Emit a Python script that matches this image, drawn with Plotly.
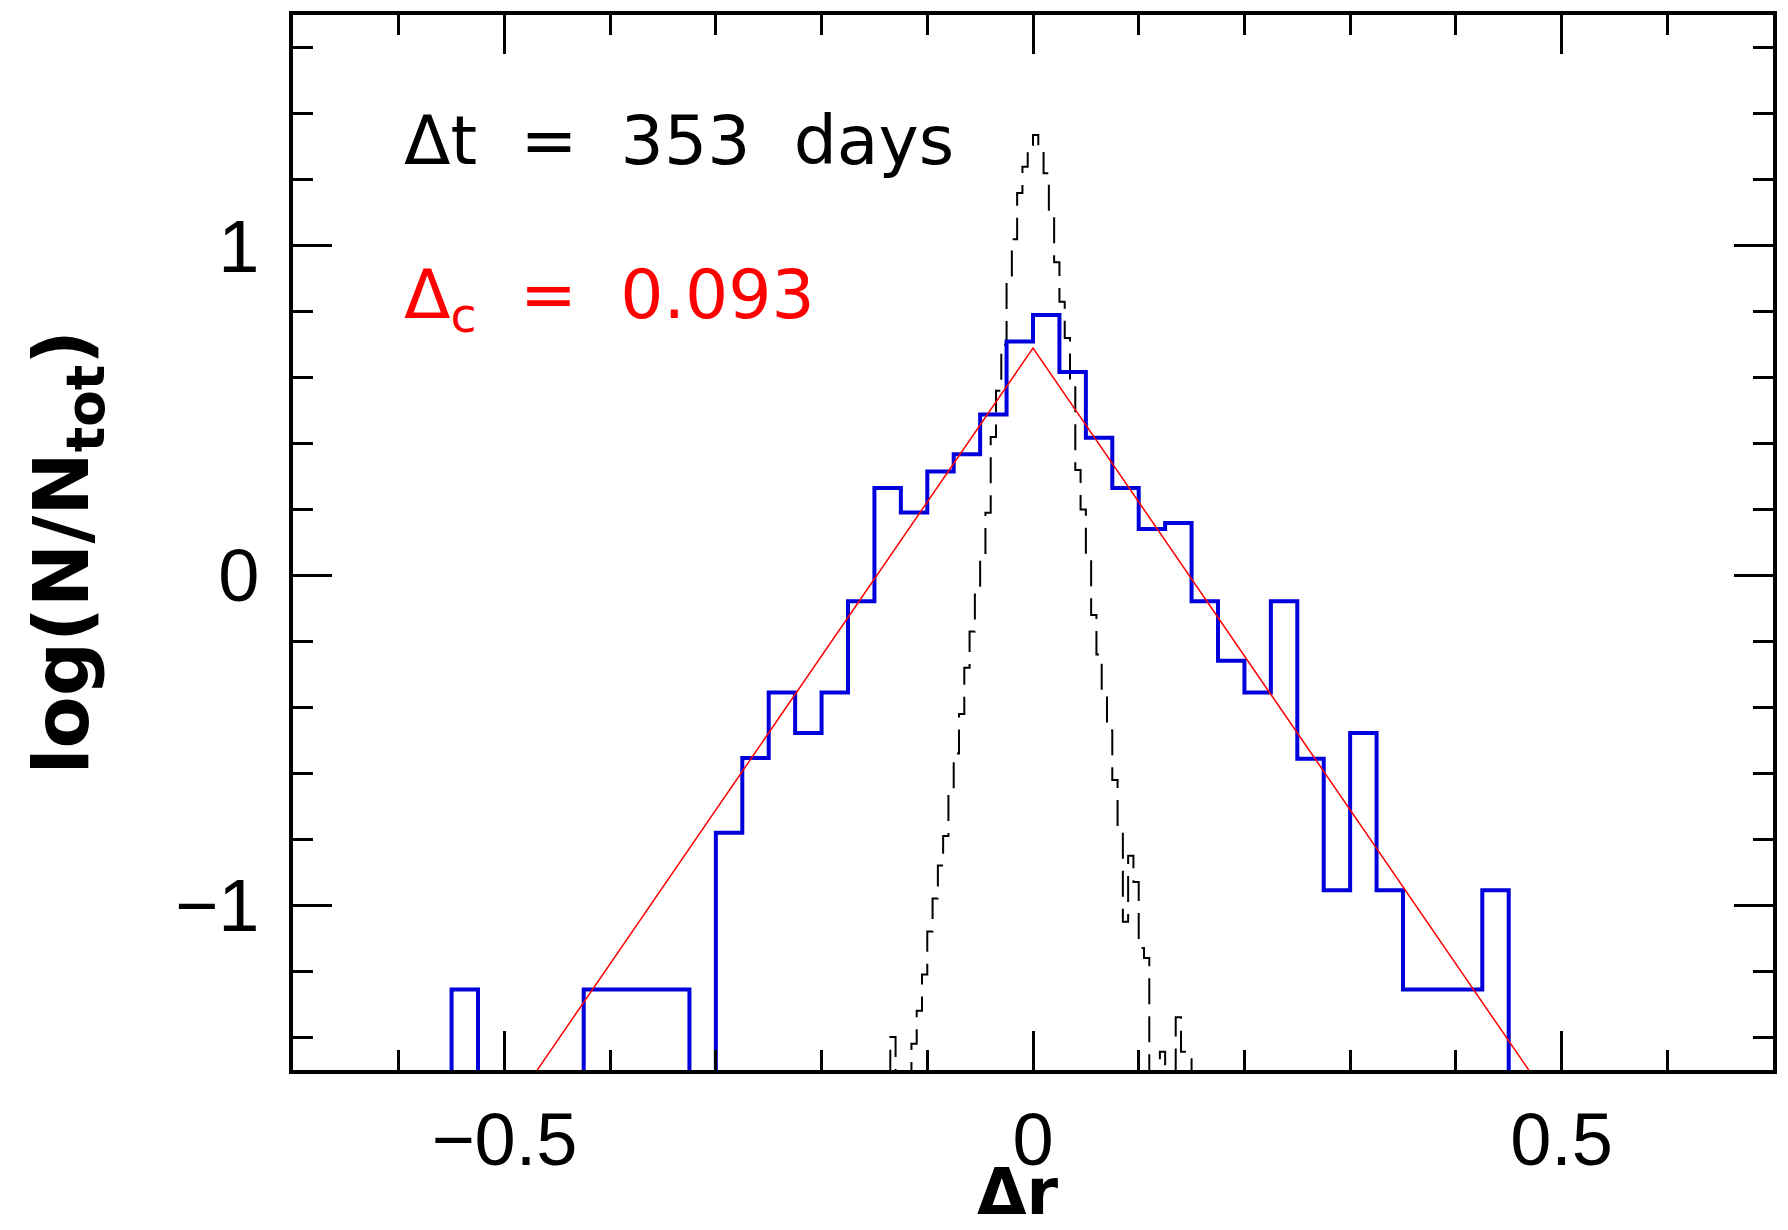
import plotly.graph_objects as go

# ---------------- data ----------------
# blue histogram (bin width 0.025): left bin edges and log(N/Ntot) values (None = empty bin)
blue_edges = [-0.550, -0.525, -0.500, -0.475, -0.450, -0.425, -0.400, -0.375, -0.350, -0.325,
              -0.300, -0.275, -0.250, -0.225, -0.200, -0.175, -0.150, -0.125, -0.100, -0.075,
              -0.050, -0.025, 0.000, 0.025, 0.050, 0.075, 0.100, 0.125, 0.150, 0.175,
              0.200, 0.225, 0.250, 0.275, 0.300, 0.325, 0.350, 0.375, 0.400, 0.425]
blue_width = 0.025
blue_values = [-1.256, None, None, None, None, -1.256, -1.256, -1.256, -1.256, None,
               -0.780, -0.554, -0.355, -0.478, -0.355, -0.078, 0.265, 0.191, 0.315, 0.368,
               0.488, 0.710, 0.790, 0.617, 0.418, 0.265, 0.141, 0.159, -0.078, -0.259,
               -0.355, -0.078, -0.556, -0.955, -0.478, -0.955, -1.256, -1.256, -1.256, -0.955]

# black dashed histogram (bin width 0.005)
dash_edges = [-0.140, -0.135, -0.130, -0.125, -0.120, -0.115, -0.110, -0.105, -0.100, -0.095,
              -0.090, -0.085, -0.080, -0.075, -0.070, -0.065, -0.060, -0.055, -0.050, -0.045,
              -0.040, -0.035, -0.030, -0.025, -0.020, -0.015, -0.010, -0.005, 0.000, 0.005,
              0.010, 0.015, 0.020, 0.025, 0.030, 0.035, 0.040, 0.045, 0.050, 0.055,
              0.060, 0.065, 0.070, 0.075, 0.080, 0.085, 0.090, 0.095, 0.100, 0.105,
              0.110, 0.115, 0.120, 0.125, 0.130, 0.135, 0.140, 0.145]
dash_width = 0.005
dash_values = [None, -1.40, None, None, None, -1.42, -1.32, -1.21, -1.08, -0.98,
               -0.88, -0.79, -0.66, -0.54, -0.42, -0.28, -0.17, -0.05, 0.05, 0.19,
               0.42, 0.56, 0.70, 0.90, 1.02, 1.16, 1.24, 1.306, 1.336, 1.285,
               1.22, 1.09, 0.95, 0.83, 0.72, 0.58, 0.32, 0.20, 0.05, -0.12,
               -0.24, -0.36, -0.47, -0.62, -0.76, -1.05, -0.85, -0.93, -1.13, -1.16,
               None, None, -1.445, None, None, -1.34, -1.445, -1.445]

# red fitted line (two-sided exponential, straight in log space)
fit_x = [-0.50, 0.00, 0.50]
fit_y = [-1.645, 0.69, -1.645]

label_dt = "Δt\u00a0 =\u00a0 353\u00a0 days"
label_dc = "Δ<sub>c</sub>\u00a0 =\u00a0 0.093"
x_title = "Δr"
y_title = "log(N/N<sub>tot</sub>)"

FLOOR = -3.0  # below the visible range: empty bins drop to the bottom axis


def step_xy(edges, width, values):
    xs = [edges[0]]
    ys = [FLOOR]
    for e, v in zip(edges, values):
        xs.append(e)
        ys.append(FLOOR if v is None else v)
    xs.append(edges[-1] + width)
    ys.append(FLOOR)
    return xs, ys


TICK_FONT = "Liberation Sans"
TEXT_FONT = "DejaVu Sans"

fig = go.Figure()

dx, dy = step_xy(dash_edges, dash_width, dash_values)
fig.add_trace(go.Scatter(x=dx, y=dy, mode="lines", line_shape="hv",
                         line=dict(color="black", width=2, dash="26px,12px"),
                         hoverinfo="skip", showlegend=False))

bx, by = step_xy(blue_edges, blue_width, blue_values)
fig.add_trace(go.Scatter(x=bx, y=by, mode="lines", line_shape="hv",
                         line=dict(color="#0000dd", width=4),
                         hoverinfo="skip", showlegend=False))

fig.add_trace(go.Scatter(x=fit_x, y=fit_y, mode="lines",
                         line=dict(color="#ff0000", width=1.5),
                         hoverinfo="skip", showlegend=False))

axis_common = dict(
    showgrid=False, zeroline=False,
    showline=True, linecolor="black", linewidth=3.5,
    mirror="ticks", ticks="inside", tickcolor="black", tickwidth=3, ticklen=39,
    tickfont=dict(family=TICK_FONT, size=74, color="black"),
)

fig.update_layout(
    width=1788, height=1230,
    margin=dict(l=293, r=11, t=11, b=160),
    paper_bgcolor="white", plot_bgcolor="white",
    xaxis=dict(range=[-0.7, 0.7], tickmode="linear", tick0=0, dtick=0.5,
               minor=dict(dtick=0.1, tick0=0, ticks="inside", ticklen=20, tickwidth=3,
                          tickcolor="black"),
               ticklabelstandoff=2, **axis_common),
    yaxis=dict(range=[-1.5, 1.7], tickmode="linear", tick0=0, dtick=1,
               minor=dict(dtick=0.2, tick0=0, ticks="inside", ticklen=20, tickwidth=3,
                          tickcolor="black"),
               ticklabelstandoff=15, **axis_common),
    annotations=[
        dict(text=label_dt, x=-0.597, y=1.32, xref="x", yref="y",
             xanchor="left", yanchor="middle", showarrow=False,
             font=dict(family=TEXT_FONT, size=68, color="black")),
        dict(text=label_dc, x=-0.597, y=0.84, xref="x", yref="y",
             xanchor="left", yanchor="middle", showarrow=False,
             font=dict(family=TEXT_FONT, size=68, color="#ff0000")),
        dict(text="<b>" + x_title + "</b>", x=-0.014, y=-0.116, xref="x", yref="paper",
             xanchor="center", yanchor="middle", showarrow=False,
             font=dict(family=TEXT_FONT, size=64, color="black")),
        dict(text="<b>" + y_title + "</b>", x=-0.153, y=0.491, xref="paper", yref="paper",
             xanchor="center", yanchor="middle", showarrow=False, textangle=-90,
             font=dict(family=TEXT_FONT, size=76, color="black")),
    ],
)

fig.write_html("out.html")
